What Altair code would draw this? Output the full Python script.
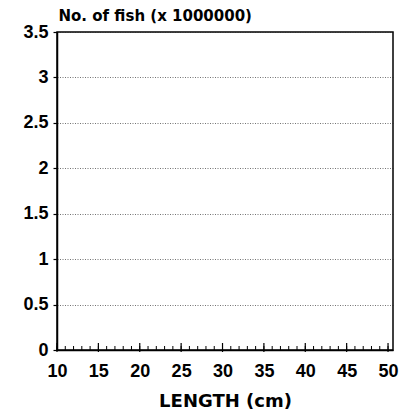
import altair as alt
import pandas as pd

# Tick values / labels
length_ticks = list(range(10, 51))
major_ticks = [10, 15, 20, 25, 30, 35, 40, 45, 50]
fish_ticks = [0, 0.5, 1, 1.5, 2, 2.5, 3, 3.5]

W, H = 336, 318
LFONT = "Liberation Sans"
TFONT = "DejaVu Sans"

df = pd.DataFrame({
    "length": length_ticks,
    "fish": [0] * len(length_ticks),
    "major": [v in major_ticks for v in length_ticks],
})

xscale = alt.Scale(domain=[10, 50.6], nice=False, zero=False)
yscale = alt.Scale(domain=[0, 3.5], nice=False)

xaxis = alt.Axis(
    values=major_ticks, title="LENGTH (cm)", tickSize=0, labelPadding=12,
    labelFontSize=18, labelFontWeight="bold", labelFont=LFONT, labelColor="black",
    titleFontSize=18, titleFontWeight="bold", titleFont=TFONT, titleColor="black",
    titlePadding=12, grid=False, domainColor="black", domainWidth=1.5,
    labelFlush=False)

yaxis = alt.Axis(
    values=fish_ticks, format="~g", title="No. of fish (x 1000000)",
    tickSize=4, tickColor="black", tickWidth=1.2, labelPadding=5,
    labelFontSize=18, labelFontWeight="bold", labelFont=LFONT, labelColor="black",
    titleFontSize=15, titleFontWeight="bold", titleFont=TFONT, titleColor="black",
    titleAngle=0, titleAlign="left", titleBaseline="alphabetic",
    titleX=1, titleY=-12,
    grid=True, gridColor="#222222", gridDash=[1, 1.5], gridWidth=0.8, gridOpacity=0.8,
    domainColor="black", domainWidth=1.5, labelFlush=False)

base = alt.Chart(df)

axes_layer = base.mark_point(opacity=0).encode(
    x=alt.X("length:Q", scale=xscale, axis=xaxis),
    y=alt.Y("fish:Q", scale=yscale, axis=yaxis),
)

minor_layer = base.mark_rule(color="black", strokeWidth=1).encode(
    x=alt.X("length:Q", scale=xscale, axis=xaxis),
    y=alt.value(H + 1),
    y2=alt.value(H - 4),
)

major_layer = base.transform_filter("datum.major").mark_rule(color="black", strokeWidth=1.2).encode(
    x=alt.X("length:Q", scale=xscale, axis=xaxis),
    y=alt.value(H + 2),
    y2=alt.value(H - 7),
)

chart = alt.layer(axes_layer, minor_layer, major_layer).properties(
    width=W, height=H,
    autosize=alt.AutoSizeParams(type="none"),
    padding={"left": 49, "top": 24, "right": 10, "bottom": 61},
    background="white",
).configure_view(stroke="black", strokeWidth=1.5)

chart.save("out.html", embed_options={"renderer": "svg", "actions": False})
